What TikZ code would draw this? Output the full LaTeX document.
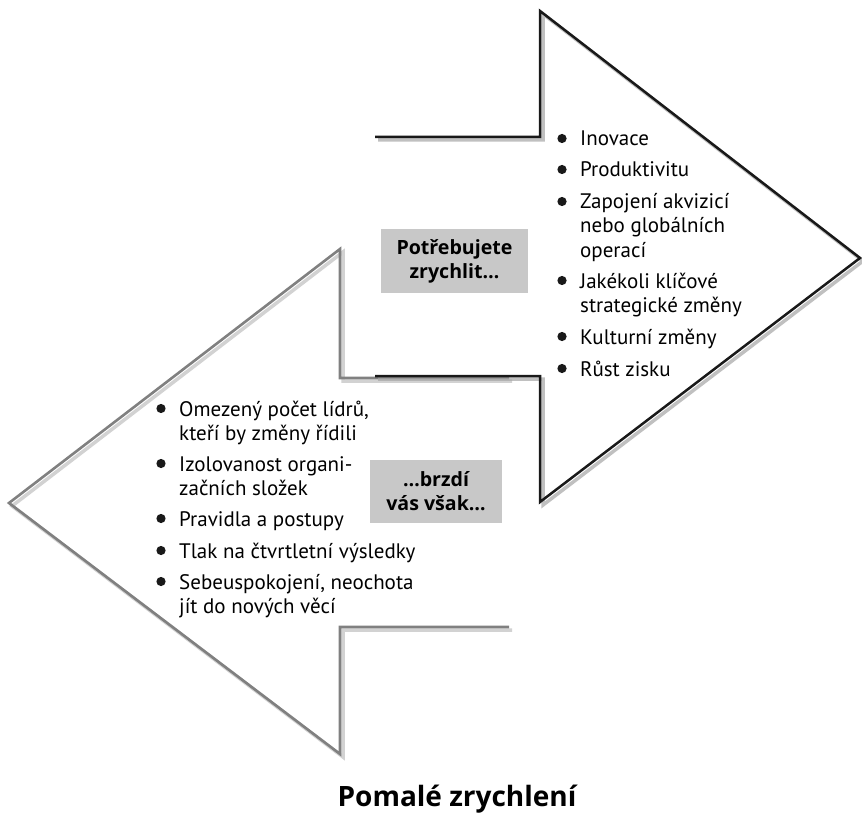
\documentclass[tikz,border=0pt]{standalone}
\usepackage{fontspec}
\setmainfont{PT Sans}
\newfontfamily\headfont{Open Sans}
\definecolor{boxgray}{RGB}{200,200,200}
\definecolor{leftline}{RGB}{128,128,128}
\tikzset{
  rshadow/.style={draw=black!35, line width=3.5pt, line join=miter, opacity=0.7},
  rline/.style={draw=black!90, line width=2.5pt, line join=miter},
  lshadow/.style={draw=black!22, line width=3.5pt, line join=miter, opacity=0.8},
  lline/.style={draw=leftline, line width=2.6pt, line join=miter},
  itemtext/.style={anchor=base west, inner sep=0pt, font=\fontsize{21}{24}\selectfont},
  bulletdot/.style={fill=black!90},
  graybox/.style={fill=boxgray, inner sep=0pt, align=center,
    font=\headfont\bfseries\fontsize{19.6}{24}\selectfont},
  titletext/.style={anchor=base, inner sep=0pt, font=\headfont\bfseries\fontsize{28}{32}\selectfont}
}
\newcommand{\lines}[1]{\begin{tabular}[t]{@{}l@{}}#1\end{tabular}}
\begin{document}
\begin{tikzpicture}[x=1pt,y=-1pt]
\useasboundingbox[fill=white] (0,0) rectangle (862,813);

% arrow outlines: corner points
\coordinate (rA) at (375,137);
\coordinate (rB) at (540,137);
\coordinate (rC) at (540,11);
\coordinate (rD) at (860,258);
\coordinate (rE) at (540,502);
\coordinate (rF) at (540,376);
\coordinate (rG) at (375,376);

\coordinate (lA) at (509,378);
\coordinate (lB) at (340,378);
\coordinate (lC) at (340,249);
\coordinate (lD) at (9,503);
\coordinate (lE) at (340,754);
\coordinate (lF) at (340,627);
\coordinate (lG) at (509,627);

% left arrow (grey outline with soft shadow)
\draw[lshadow, transform canvas={shift={(3pt,-3pt)}}] (lA) -- (lB) -- (lC) -- (lD) -- (lE) -- (lF) -- (lG);
\draw[lline] (lA) -- (lB) -- (lC) -- (lD) -- (lE) -- (lF) -- (lG);

% right arrow (black outline with shadow)
\draw[rshadow, transform canvas={shift={(3pt,-3pt)}}] (rA) -- (rB) -- (rC) -- (rD) -- (rE) -- (rF) -- (rG);
\draw[rline] (rA) -- (rB) -- (rC) -- (rD) -- (rE) -- (rF) -- (rG);

% labels in grey boxes
\node[graybox, minimum width=147pt, minimum height=64pt] (speed) at (454.5,261) {Potřebujete\\zrychlit…};
\node[graybox, minimum width=132pt, minimum height=63pt] (brake) at (436,491.5) {…brzdí\\vás však…};

% right-hand list
\node[itemtext] (r1) at (580,146) {\lines{Inovace}};
\node[itemtext] (r2) at (580,177) {\lines{Produktivitu}};
\node[itemtext] (r3) at (580,209) {\lines{Zapojení akvizicí\\nebo globálních\\operací}};
\node[itemtext] (r4) at (580,288) {\lines{Jakékoli klíčové\\strategické změny}};
\node[itemtext] (r5) at (580,344) {\lines{Kulturní změny}};
\node[itemtext] (r6) at (580,376) {\lines{Růst zisku}};
\foreach \n in {r1,r2,r3,r4,r5,r6}
  \fill[bulletdot] ([shift={(-18,-7.5)}]\n.base west) circle[radius=4.6];

% left-hand list
\node[itemtext] (l1) at (179,416) {\lines{Omezený počet lídrů,\\kteří by změny řídili}};
\node[itemtext] (l2) at (179,471) {\lines{Izolovanost organi-\\začních složek}};
\node[itemtext] (l3) at (179,526) {\lines{Pravidla a postupy}};
\node[itemtext] (l4) at (179,558) {\lines{Tlak na čtvrtletní výsledky}};
\node[itemtext] (l5) at (179,589) {\lines{Sebeuspokojení, neochota\\jít do nových věcí}};
\foreach \n in {l1,l2,l3,l4,l5}
  \fill[bulletdot] ([shift={(-18,-7.5)}]\n.base west) circle[radius=4.6];

% caption
\node[titletext] (title) at (457,806) {Pomalé zrychlení};
\end{tikzpicture}
\end{document}
